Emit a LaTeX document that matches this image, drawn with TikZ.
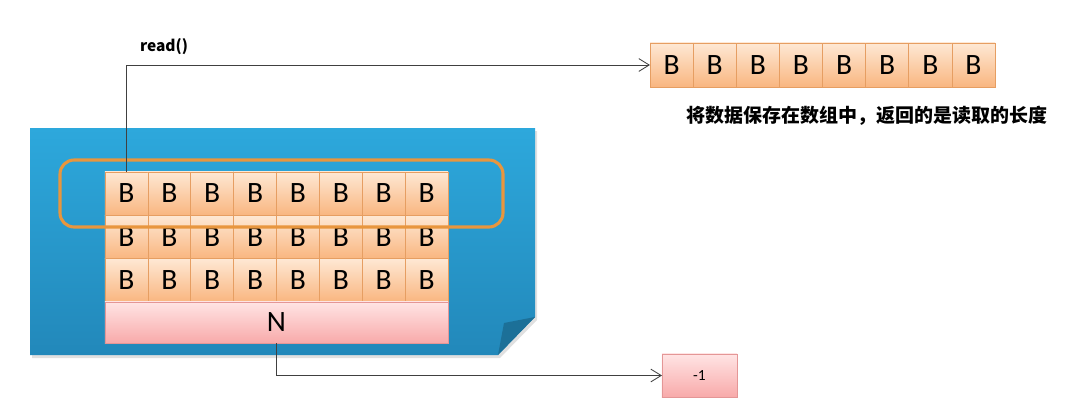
\documentclass[tikz,border=0pt]{standalone}
\usepackage{fontspec}
\setmainfont{Carlito}
\newfontfamily\cjkfont{Noto Sans CJK SC}
\usetikzlibrary{arrows.meta}
\definecolor{panelblue}{RGB}{45,168,220}
\definecolor{paneldark}{RGB}{34,136,186}
\definecolor{foldblue}{RGB}{28,112,152}
\definecolor{peach}{RGB}{254,232,212}
\definecolor{apricot}{RGB}{249,182,128}
\definecolor{celledge}{RGB}{230,158,98}
\definecolor{blush}{RGB}{255,228,228}
\definecolor{rose}{RGB}{248,170,170}
\definecolor{roseedge}{RGB}{228,150,150}
\definecolor{amber}{RGB}{232,150,62}
\definecolor{wire}{RGB}{64,64,64}

\tikzset{
  byte/.style={draw=celledge,line width=.5pt,top color=peach,bottom color=apricot,
    minimum width=1.072cm,minimum height=1.08cm,inner sep=0pt,outer sep=0pt,
    font=\fontsize{21}{21}\selectfont},
  endmark/.style={draw=roseedge,line width=.5pt,top color=blush,bottom color=rose,
    inner sep=0pt,outer sep=0pt},
  wirearrow/.style={draw=wire,line width=.6pt,-{Straight Barb[length=2.6mm,width=3.2mm]}}
}

\begin{document}
\begin{tikzpicture}[x=0.025cm,y=-0.025cm]
\useasboundingbox (0,0) rectangle (1080,415);
% stream
\fill[black!12] (32,131)--(537,131)--(537,320)--(500,358)--(32,358)--cycle;
\shade[top color=panelblue,bottom color=paneldark] (30,128)--(535,128)--(535,317)--(498,355)--(30,355)--cycle;
\fill[foldblue] (535,317)--(504,323)--(498,355)--cycle;
\foreach \r/\y in {1/193.5,2/236.8,3/280.1}
  \foreach \c in {1,...,8}
    \node[byte] (c\r\c) at ({105+42.875*(\c-0.5)},\y) {B};
\node[endmark,minimum width=8.575cm,minimum height=1.025cm,font=\fontsize{21}{21}\selectfont] (eof) at (276.5,322.5) {N};
\draw[amber,line width=2.2pt,rounded corners=10] (60,160) rectangle (503,227);
% target array
\foreach \c in {1,...,8}
  \node[byte,minimum width=1.078cm,minimum height=1.1cm] (t\c) at ({650+43.125*(\c-0.5)},65) {B};
\node[font=\cjkfont\bfseries\fontsize{13.5}{15}\selectfont] (note) at (867,116) {将数据保存在数组中，返回的是读取的长度};
\node[endmark,minimum width=1.875cm,minimum height=1.075cm,font=\fontsize{11}{11}\selectfont] (minus) at (699.5,375.5) {-1};
% connectors
\draw[wirearrow] (c11.north) |- (t1.west);
\node[font=\cjkfont\bfseries\fontsize{11}{13}\selectfont] (readlbl) at (164,47) {read()};
\draw[wirearrow] (eof.south) |- (minus.west);
\end{tikzpicture}
\end{document}
